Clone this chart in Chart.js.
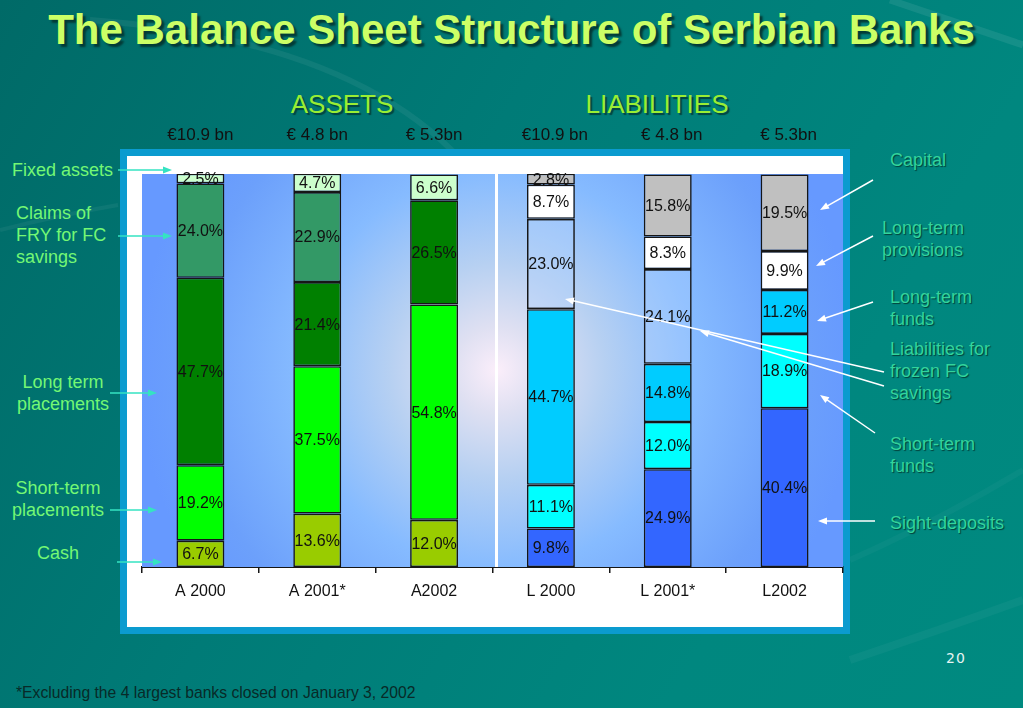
<!DOCTYPE html>
<html>
<head>
<meta charset="utf-8">
<script src="https://cdn.jsdelivr.net/npm/chart.js@4.4.1/dist/chart.umd.min.js"></script>
<style>
    html, body { margin: 0; padding: 0; }
    body {
        width: 1023px; height: 708px; position: relative; overflow: hidden;
        font-family: "Liberation Sans", Arial, sans-serif;
        background: linear-gradient(120deg, #006a67 0%, #007b77 40%, #00877f 75%, #008a80 100%);
    }
    .streaks { position: absolute; left: 0; top: 0; }
    .title {
        position: absolute; left: 0; width: 1023px; top: 9px; text-align: center;
        font-size: 42px; line-height: 42px; font-weight: bold; color: #ccff66;
        text-shadow: 3px 3px 2px #033a35;
    }
    .side {
        position: absolute; top: 91px; width: 200px; text-align: center;
        font-size: 26px; line-height: 26px; color: #99ee33;
        text-shadow: 2px 2px 1px #03443f;
    }
    .frame { position: absolute; left: 120px; top: 149px; width: 730px; height: 485px; background: #0b9bcf; }
    .panel { position: absolute; left: 127px; top: 156px; width: 716px; height: 471px; background: #ffffff; }
    .lbl { position: absolute; font-size: 18px; line-height: 22px; white-space: nowrap; }
    .left { color: #74f874; }
    .right { color: #33d49c; text-shadow: 1px 1px 1px #02403a; }
    .page { position: absolute; left: 946px; top: 650px; font-family: "DejaVu Sans", sans-serif; font-size: 14px; line-height: 16px; letter-spacing: 1px; color: #e6f4f2; }
    .note { position: absolute; left: 16px; top: 684px; font-size: 15.7px; line-height: 18px; color: #082a28; }
    #wrap { position: absolute; left: 0; top: 0; width: 1023px; height: 708px; }
</style>
</head>
<body>
<svg class="streaks" width="1023" height="708">
    <path d="M 90 20 Q 360 40 470 170" stroke="rgba(255,255,255,0.06)" stroke-width="6" fill="none"/>
    <path d="M 0 230 Q 60 215 118 205" stroke="rgba(255,255,255,0.05)" stroke-width="4" fill="none"/>
    <path d="M 890 0 L 1023 45" stroke="rgba(255,255,255,0.08)" stroke-width="7" fill="none"/>
    <path d="M 850 660 Q 940 630 1023 600" stroke="rgba(255,255,255,0.04)" stroke-width="8" fill="none"/>
    <path d="M 850 560 Q 940 520 1023 470" stroke="rgba(255,255,255,0.03)" stroke-width="6" fill="none"/>
</svg>

<div class="title">The Balance Sheet Structure of Serbian Banks</div>
<div class="side" style="left: 242px;">ASSETS</div>
<div class="side" style="left: 557px;">LIABILITIES</div>

<div class="frame"></div>
<div class="panel"></div>

<div class="lbl left" style="left: 12px; top: 159px;">Fixed assets</div>
<div class="lbl left" style="left: 16px; top: 202px;">Claims of<br>FRY for FC<br>savings</div>
<div class="lbl left" style="left: 13px; top: 371px; width: 100px; text-align: center;">Long term<br>placements</div>
<div class="lbl left" style="left: 8px; top: 477px; width: 100px; text-align: center;">Short-term<br>placements</div>
<div class="lbl left" style="left: 37px; top: 542px;">Cash</div>

<div class="lbl right" style="left: 890px; top: 149px;">Capital</div>
<div class="lbl right" style="left: 882px; top: 217px;">Long-term<br>provisions</div>
<div class="lbl right" style="left: 890px; top: 286px;">Long-term<br>funds</div>
<div class="lbl right" style="left: 890px; top: 338px;">Liabilities for<br>frozen FC<br>savings</div>
<div class="lbl right" style="left: 890px; top: 433px;">Short-term<br>funds</div>
<div class="lbl right" style="left: 890px; top: 512px;">Sight-deposits</div>

<div class="page">20</div>
<div class="note">*Excluding the 4 largest banks closed on January 3, 2002</div>

<div id="wrap"><canvas id="chart"></canvas></div>

<script>
    // categories and totals
    const categories = ["A 2000", "A 2001*", "A2002", "L 2000", "L 2001*", "L2002"];
    const totals = ["€10.9 bn", "€ 4.8 bn", "€ 5.3bn", "€10.9 bn", "€ 4.8 bn", "€ 5.3bn"];

    // assets, % of total
    const cash = [6.7, 13.6, 12.0, null, null, null];
    const stPlacements = [19.2, 37.5, 54.8, null, null, null];
    const ltPlacements = [47.7, 21.4, 26.5, null, null, null];
    const claimsFry = [24.0, 22.9, 0, null, null, null];
    const fixedAssets = [2.5, 4.7, 6.6, null, null, null];

    // liabilities, % of total
    const sightDeposits = [null, null, null, 9.8, 24.9, 40.4];
    const stFunds = [null, null, null, 11.1, 12.0, 18.9];
    const ltFunds = [null, null, null, 44.7, 14.8, 11.2];
    const frozenFc = [null, null, null, 23.0, 24.1, 0];
    const ltProvisions = [null, null, null, 8.7, 8.3, 9.9];
    const capital = [null, null, null, 2.8, 15.8, 19.5];

    const series = [
        ["Cash", cash, "#99cc00"],
        ["Short-term placements", stPlacements, "#00ff00"],
        ["Long term placements", ltPlacements, "#008000"],
        ["Claims of FRY for FC savings", claimsFry, "#339966"],
        ["Fixed assets", fixedAssets, "#ccffcc"],
        ["Sight-deposits", sightDeposits, "#3366ff"],
        ["Short-term funds", stFunds, "#00ffff"],
        ["Long-term funds", ltFunds, "#00ccff"],
        ["Liabilities for frozen FC savings", frozenFc, "rgba(175,210,255,0.35)"],
        ["Long-term provisions", ltProvisions, "#ffffff"],
        ["Capital", capital, "#c0c0c0"]
    ];

    // annotation arrows [x1, y1, x2, y2] in page pixels
    const leftArrows = [[118, 170, 172, 170], [118, 236, 172, 236], [110, 393, 157, 393], [110, 510, 157, 510], [117, 562, 162, 562]];
    const rightArrows = [[873, 180, 820, 210], [873, 236, 816, 266], [873, 302, 817, 321], [884, 372, 565, 299],
        [884, 386, 700, 331], [875, 433, 820, 395], [875, 521, 818, 521]];

    const FONT = "'Liberation Sans', Arial, sans-serif";
    Chart.defaults.font.family = FONT;

    function arrow(ctx, a, color) {
        const [x1, y1, x2, y2] = a;
        const ang = Math.atan2(y2 - y1, x2 - x1);
        ctx.strokeStyle = color;
        ctx.fillStyle = color;
        ctx.lineWidth = 1.5;
        ctx.beginPath();
        ctx.moveTo(x1, y1);
        ctx.lineTo(x2 - 6 * Math.cos(ang), y2 - 6 * Math.sin(ang));
        ctx.stroke();
        ctx.beginPath();
        ctx.moveTo(x2, y2);
        ctx.lineTo(x2 - 9 * Math.cos(ang) + 3.5 * Math.sin(ang), y2 - 9 * Math.sin(ang) - 3.5 * Math.cos(ang));
        ctx.lineTo(x2 - 9 * Math.cos(ang) - 3.5 * Math.sin(ang), y2 - 9 * Math.sin(ang) + 3.5 * Math.cos(ang));
        ctx.closePath();
        ctx.fill();
    }

    const slidePlugin = {
        id: "slide",
        beforeDatasetsDraw(chart) {
            const { ctx, chartArea: a, scales } = chart;
            ctx.save();
            const g = ctx.createRadialGradient(497, 370, 0, 497, 370, 360);
            g.addColorStop(0, "#fbeefa");
            g.addColorStop(0.12, "#dfe0f2");
            g.addColorStop(0.3, "#b6d0f2");
            g.addColorStop(0.55, "#86bbff");
            g.addColorStop(0.85, "#6ca0fb");
            g.addColorStop(1, "#6699ff");
            ctx.fillStyle = g;
            ctx.fillRect(a.left, a.top, a.right - a.left, a.bottom - a.top);
            // separator between assets and liabilities
            const sx = (scales.x.getPixelForValue(2) + scales.x.getPixelForValue(3)) / 2 + 4;
            ctx.strokeStyle = "#ffffff";
            ctx.lineWidth = 3;
            ctx.beginPath();
            ctx.moveTo(sx, a.top - 1);
            ctx.lineTo(sx, a.bottom);
            ctx.stroke();
            ctx.restore();
        },
        afterDatasetsDraw(chart) {
            const { ctx } = chart;
            ctx.save();
            ctx.font = "16px " + FONT;
            ctx.fillStyle = "#111111";
            ctx.textAlign = "center";
            ctx.textBaseline = "middle";
            chart.data.datasets.forEach((ds, i) => {
                chart.getDatasetMeta(i).data.forEach((el, j) => {
                    const v = ds.data[j];
                    if (v === null || v <= 0) return;
                    ctx.fillText(v.toFixed(1) + "%", el.x, (el.y + el.base) / 2 + 1);
                });
            });
            ctx.restore();
        },
        afterDraw(chart) {
            const { ctx, scales } = chart;
            ctx.save();
            ctx.font = "17px " + FONT;
            ctx.fillStyle = "#111111";
            ctx.textAlign = "center";
            ctx.textBaseline = "middle";
            totals.forEach((t, i) => ctx.fillText(t, scales.x.getPixelForValue(i) + (i > 2 ? 4 : 0), 135));
            leftArrows.forEach(a => arrow(ctx, a, "#35e3c2"));
            rightArrows.forEach(a => arrow(ctx, a, "#ffffff"));
            ctx.restore();
        }
    };

    new Chart(document.getElementById("chart"), {
        type: "bar",
        data: {
            labels: categories,
            datasets: series.map(s => ({
                label: s[0],
                data: s[1],
                backgroundColor: s[2],
                borderColor: "#161616",
                borderWidth: 1.6,
                borderSkipped: false,
                categoryPercentage: 1,
                barPercentage: 0.41
            }))
        },
        options: {
            responsive: true,
            maintainAspectRatio: false,
            animation: false,
            layout: { padding: { left: 142, right: 180, top: 174, bottom: 81 } },
            plugins: { legend: { display: false }, tooltip: { enabled: false } },
            scales: {
                x: {
                    stacked: true,
                    afterFit: (scale) => { scale.height = 60; },
                    grid: { display: true, drawOnChartArea: false, drawTicks: true, tickLength: 6, color: "#161616", lineWidth: 1.5 },
                    border: { display: true, color: "#161616", width: 2 },
                    ticks: { color: "#111111", font: { size: 16 }, padding: 9 }
                },
                y: { stacked: true, display: false, min: 0, max: 100 }
            }
        },
        plugins: [slidePlugin]
    });
</script>
</body>
</html>
